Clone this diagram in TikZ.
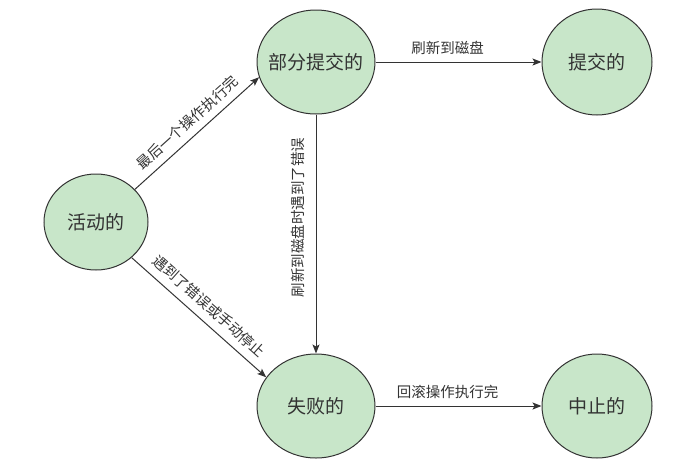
\documentclass[tikz,border=0pt]{standalone}
\usepackage{fontspec}
\setmainfont{Noto Sans CJK SC}
\usetikzlibrary{shapes.geometric,arrows.meta}
\definecolor{stategreen}{HTML}{C8E6C9}
\definecolor{inkgray}{HTML}{333333}
\tikzset{
    state/.style={ellipse, draw=inkgray, line width=1pt, fill=stategreen,
        inner sep=0pt, inner xsep=-20pt, text=inkgray,
        font=\fontsize{19}{22}\selectfont},
    trans/.style={draw=inkgray, line width=1pt,
        -{Stealth[length=9pt,width=7pt,inset=2pt]}},
    tlabel/.style={text=inkgray, font=\fontsize{14.5}{16}\selectfont, inner sep=2pt}
}
\begin{document}
\begin{tikzpicture}[x=1pt,y=-1pt]
        \useasboundingbox (0,0) rectangle (680,464);
        % states
            \foreach \n/\x/\y/\w/\h/\t in {act/96/222/104/96/活动的,
                part/316/62/118/104/部分提交的, commit/597/62/110/106/提交的,
                fail/316/406/118/104/失败的, abort/597/406/110/104/中止的}{
                \node[state, minimum width=\w pt, minimum height=\h pt] (\n) at (\x,\y) {\t};
            }
        % transitions
            \draw[trans] (act.40) -- node[tlabel, sloped, above=5pt] {最后一个操作执行完} (part.195);
            \draw[trans] (act.-45) -- node[tlabel, sloped, above=6pt] {遇到了错误或手动停止} (fail.150);
            \draw[trans] (part) -- node[tlabel, pos=0.43, rotate=90, anchor=south, inner sep=11pt] {刷新到磁盘时遇到了错误} (fail);
            \draw[trans] (part) -- node[tlabel, above=5pt, xshift=-11pt] {刷新到磁盘} (commit);
            \draw[trans] (fail) -- node[tlabel, above=5pt, xshift=-11pt] {回滚操作执行完} (abort);
        \end{tikzpicture}
\end{document}
